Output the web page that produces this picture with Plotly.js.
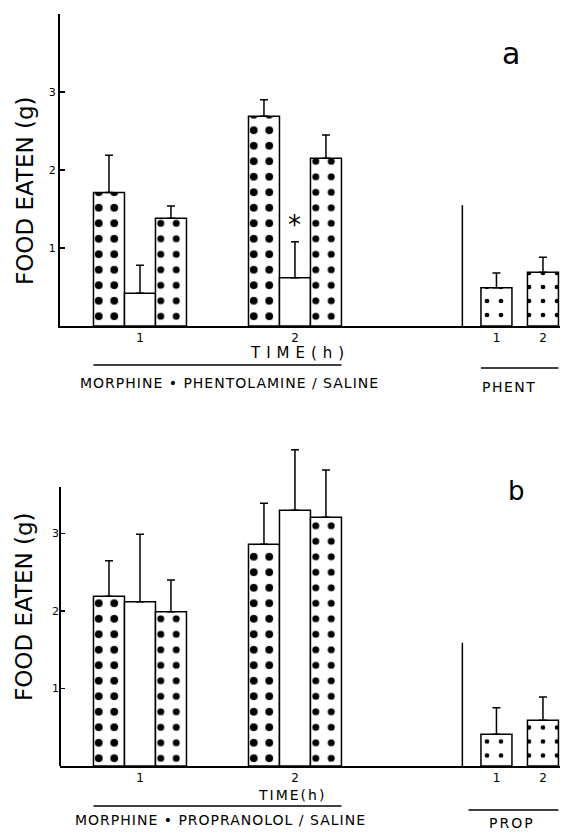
<!DOCTYPE html>
<html><head><meta charset="utf-8">
<script src="https://cdn.plot.ly/plotly-3.0.1.min.js"></script>
<style>html,body{margin:0;padding:0;background:#fff}</style>
</head><body><div id="chart" style="width:561px;height:832px"></div>
<script>
// ---- data ----
const timeLabels = ['1', '2'];
const drugLabels = ['1', '2'];
const yTicks = [1, 2, 3];
// Panel a (morphine + phentolamine / saline)
const aSquares = [1.71, 2.69];
const aSquaresErr = [0.48, 0.21];
const aOpen = [0.42, 0.62];
const aOpenErr = [0.36, 0.46];
const aDots = [1.38, 2.15];
const aDotsErr = [0.16, 0.30];
const aPhent = [0.49, 0.69];
const aPhentErr = [0.19, 0.19];
// Panel b (morphine + propranolol / saline)
const bSquares = [2.19, 2.86];
const bSquaresErr = [0.46, 0.53];
const bOpen = [2.12, 3.30];
const bOpenErr = [0.87, 0.78];
const bDots = [1.99, 3.21];
const bDotsErr = [0.41, 0.61];
const bProp = [0.41, 0.59];
const bPropErr = [0.34, 0.30];

// ---- layout helpers ----
const groupPos = [0, 5];
const drugPos = [11.5, 13.0];
const sepX = 10.4;
const H = 832;
const py = p => 1 - p / H;          // pixel row -> paper y
const px = p => (p - 60) / 500;     // pixel column -> paper x

const patSq = {shape: '.', fgcolor: 'black', bgcolor: 'white', size: 15.5, solidity: 0.2};
const patDot = {shape: '.', fgcolor: 'black', bgcolor: 'white', size: 15.5, solidity: 0.16};
const patTri = {shape: '.', fgcolor: 'black', bgcolor: 'white', size: 14, solidity: 0.09};

function bars(vals, errs, xs, xa, ya, pattern) {
  const t = {
    type: 'bar', x: xs, y: vals, width: xs.map(() => 1), xaxis: xa, yaxis: ya,
    marker: {color: 'white', line: {color: 'black', width: 1.5}},
    error_y: {type: 'data', array: errs, arrayminus: errs.map(() => 0), symmetric: false,
              visible: true, color: 'black', thickness: 1.5, width: 4},
    showlegend: false, hoverinfo: 'skip'
  };
  if (pattern) t.marker.pattern = pattern;
  return t;
}
const off = (arr, d) => arr.map(v => v + d);

const traces = [
  bars(aSquares, aSquaresErr, off(groupPos, -1), 'x', 'y', patSq),
  bars(aOpen, aOpenErr, off(groupPos, 0), 'x', 'y', null),
  bars(aDots, aDotsErr, off(groupPos, 1), 'x', 'y', patDot),
  bars(aPhent, aPhentErr, drugPos, 'x', 'y', patTri),
  bars(bSquares, bSquaresErr, off(groupPos, -1), 'x2', 'y2', patSq),
  bars(bOpen, bOpenErr, off(groupPos, 0), 'x2', 'y2', null),
  bars(bDots, bDotsErr, off(groupPos, 1), 'x2', 'y2', patDot),
  bars(bProp, bPropErr, drugPos, 'x2', 'y2', patTri)
];

const xBase = {
  domain: [0, 1], range: [-2.58, 13.55], showline: true, linewidth: 2, linecolor: 'black',
  ticks: '', tickvals: groupPos.concat(drugPos), ticktext: timeLabels.concat(drugLabels),
  tickfont: {size: 12}, showgrid: false, zeroline: false, automargin: false
};
const yBase = {
  ticks: 'inside', ticklen: 5, tickwidth: 1.5, tickcolor: 'black', tickvals: yTicks,
  tickfont: {size: 11}, showgrid: false, zeroline: false, automargin: false, linecolor: 'black', linewidth: 2
};

const lineStyle = {color: 'black', width: 1.5};
const shapes = [
  {type: 'line', xref: 'x', yref: 'y', x0: sepX, x1: sepX, y0: 0, y1: 1.55, line: lineStyle},
  {type: 'line', xref: 'x2', yref: 'y2', x0: sepX, x1: sepX, y0: 0, y1: 1.59, line: lineStyle},
  {type: 'line', xref: 'x2 domain', yref: 'y2', x0: 0, x1: 0, y0: 0, y1: 3.6, line: {color: 'black', width: 2}},
  {type: 'line', xref: 'x', yref: 'paper', x0: groupPos[0] - 1.5, x1: groupPos[1] + 1.5, y0: py(365), y1: py(365), line: lineStyle},
  {type: 'line', xref: 'x', yref: 'paper', x0: drugPos[0] - 0.5, x1: drugPos[1] + 0.5, y0: py(368), y1: py(368), line: lineStyle},
  {type: 'line', xref: 'x2', yref: 'paper', x0: groupPos[0] - 1.5, x1: groupPos[1] + 1.5, y0: py(806), y1: py(806), line: lineStyle},
  {type: 'line', xref: 'x2', yref: 'paper', x0: drugPos[0] - 0.9, x1: drugPos[1] + 0.5, y0: py(810), y1: py(810), line: lineStyle}
];

function txt(text, x, y, size, extra) {
  return Object.assign({text: text, xref: 'paper', yref: 'paper', x: px(x), y: py(y),
    xanchor: 'center', yanchor: 'middle', showarrow: false, font: {size: size, color: 'black'}}, extra || {});
}
const sp = (s, n) => '<span style="letter-spacing:' + n + 'px">' + s + '</span>';
const annotations = [
  txt('a', 511, 54, 30),
  txt('b', 516, 491, 26),
  txt('FOOD EATEN (g)', 25, 191, 23, {textangle: -90}),
  txt('FOOD EATEN (g)', 24, 607, 23, {textangle: -90}),
  txt(sp('TIME(h)', 6), 300, 353, 15),
  txt(sp('TIME(h)', 2), 292, 795, 14),
  txt(sp('MORPHINE • PHENTOLAMINE / SALINE', 1), 229, 383, 14),
  txt(sp('PHENT', 1.5), 509, 387, 14),
  txt(sp('MORPHINE • PROPRANOLOL / SALINE', 1), 220, 820, 14),
  txt(sp('PROP', 2), 512, 823, 14),
  {text: '*', xref: 'x', yref: 'y', x: groupPos[1], y: aOpen[1] + aOpenErr[1] + 0.22,
   showarrow: false, font: {size: 26, color: 'black'}, yanchor: 'middle'}
];

const layout = {
  width: 561, height: 832, margin: {l: 60, r: 1, t: 0, b: 0},
  barmode: 'overlay', plot_bgcolor: 'white', paper_bgcolor: 'white',
  font: {family: 'DejaVu Sans, Liberation Sans, sans-serif', color: 'black'},
  xaxis: Object.assign({}, xBase, {anchor: 'y'}),
  yaxis: Object.assign({}, yBase, {domain: [py(326), py(14)], range: [0, 4], anchor: 'x', showline: true}),
  xaxis2: Object.assign({}, xBase, {anchor: 'y2'}),
  yaxis2: Object.assign({}, yBase, {domain: [py(766), py(440.5)], range: [0, 4.2], anchor: 'x2', showline: false}),
  shapes: shapes, annotations: annotations
};

Plotly.newPlot('chart', traces, layout, {staticPlot: true, displayModeBar: false});
</script></body></html>
